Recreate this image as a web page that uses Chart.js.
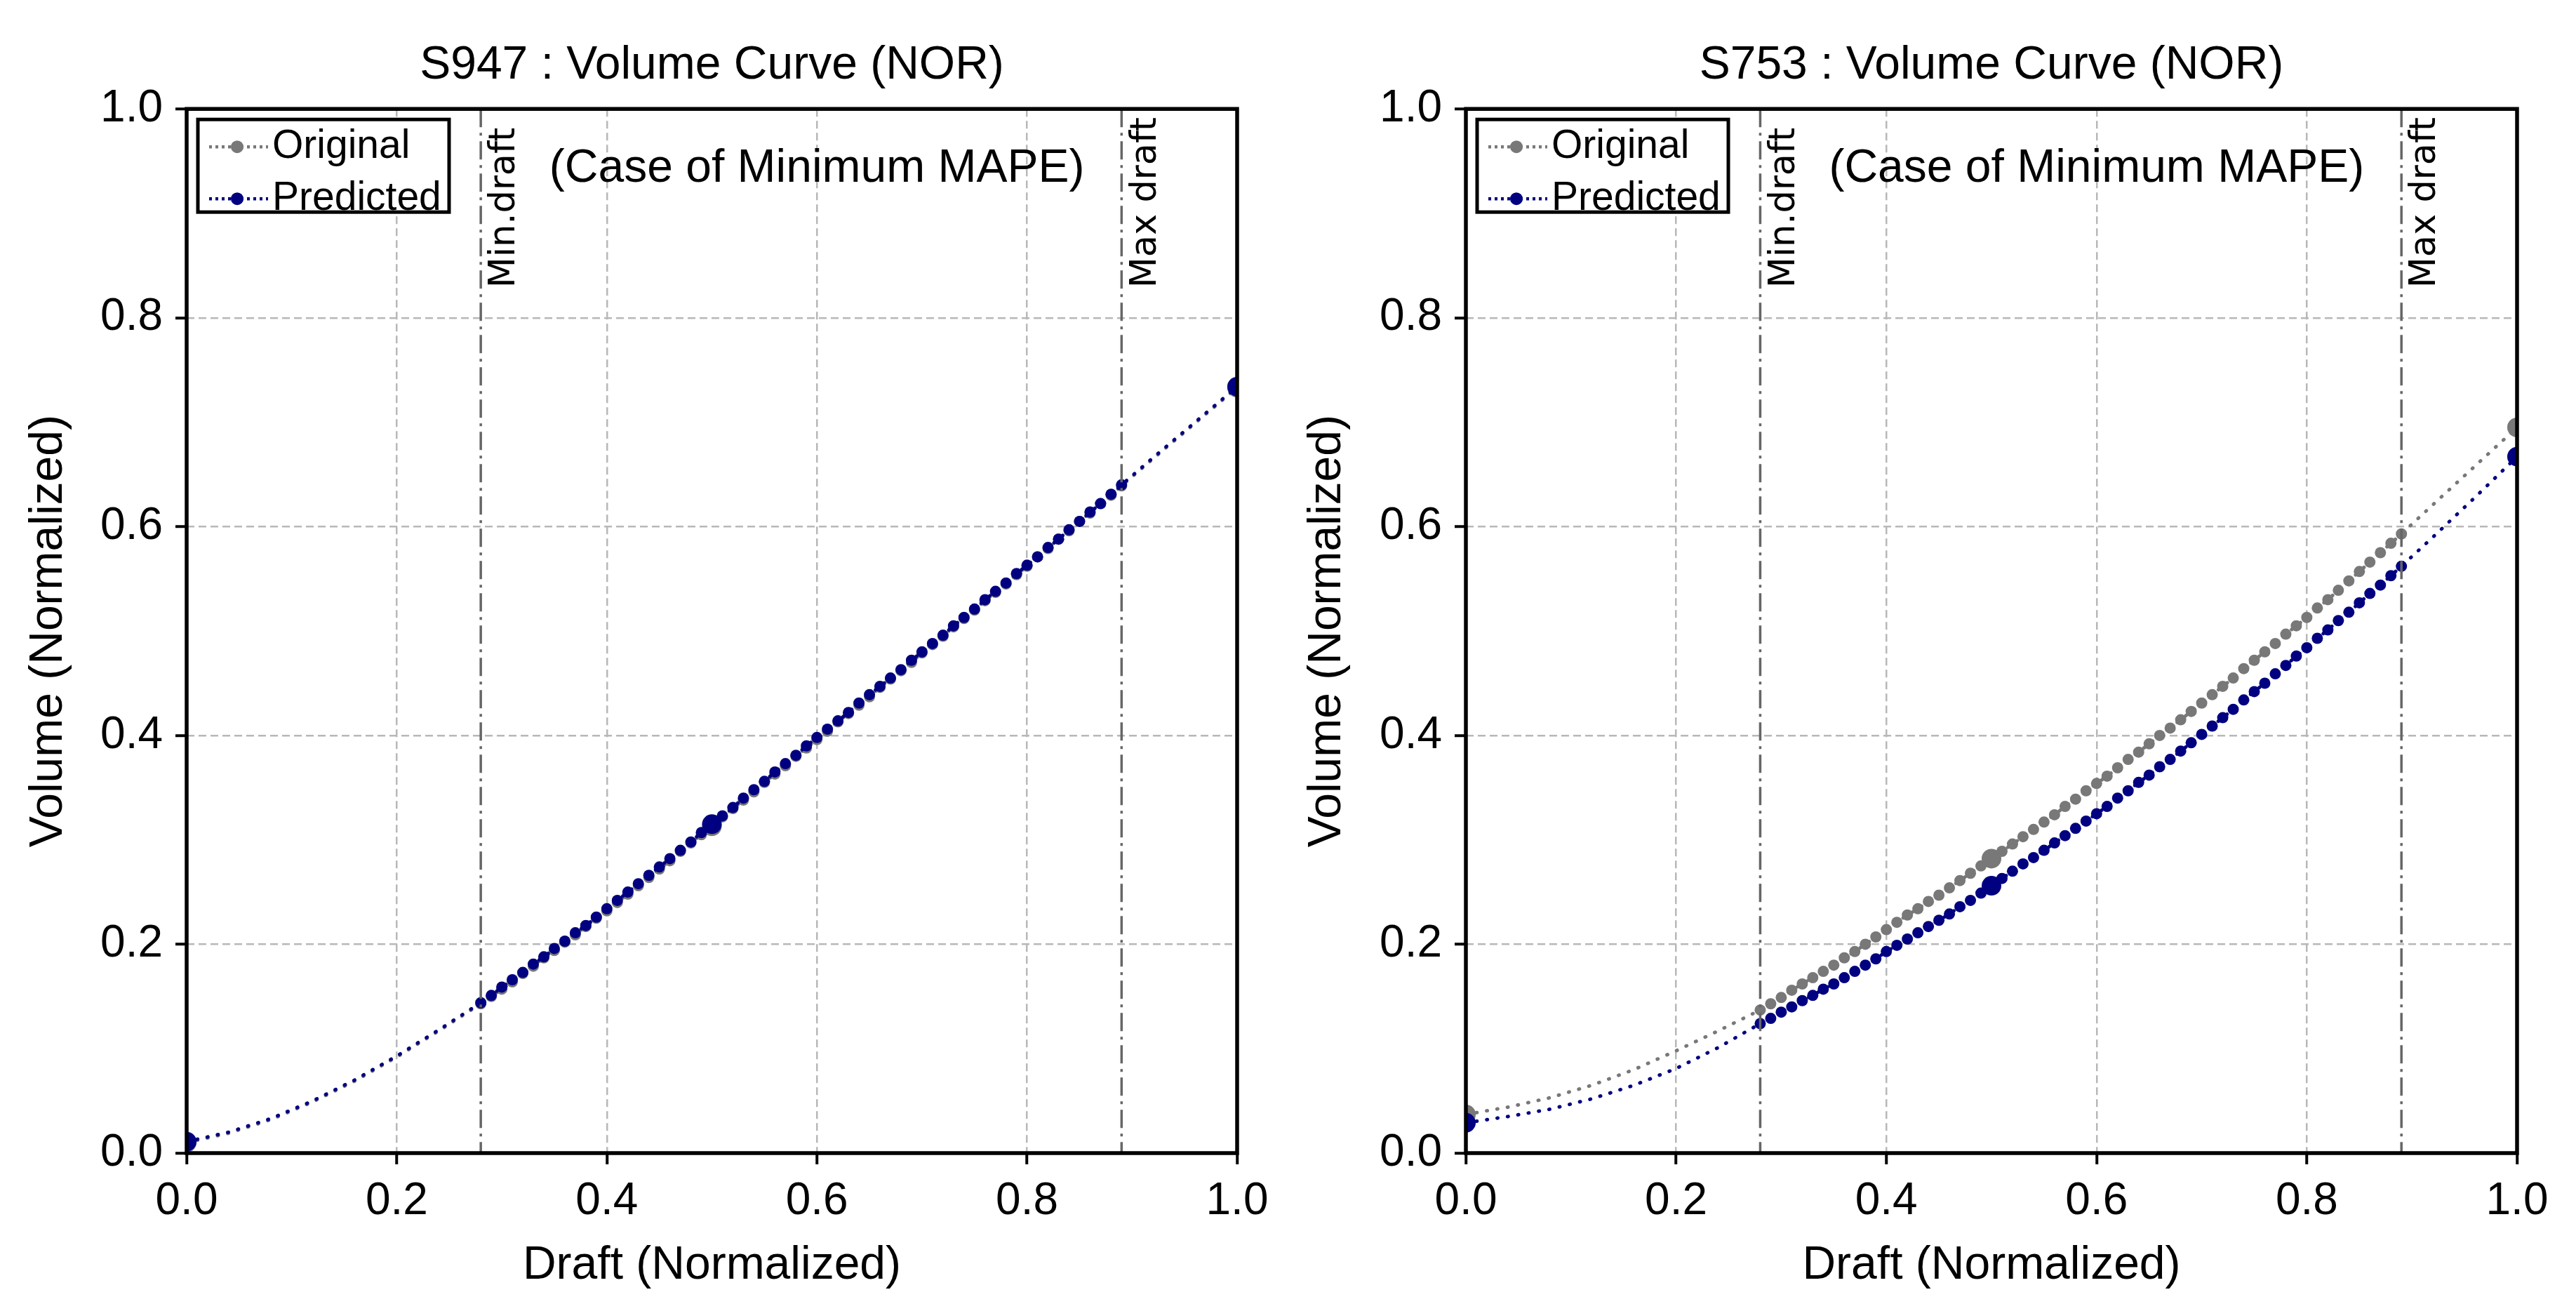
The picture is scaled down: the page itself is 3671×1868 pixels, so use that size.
<!DOCTYPE html>
<html>
<head>
<meta charset="utf-8">
<title>Volume Curve (NOR)</title>
<script src="https://cdn.jsdelivr.net/npm/chart.js@4.4.1/dist/chart.umd.min.js"></script>
<style>
  html, body { margin: 0; padding: 0; background: #fff; }
  body { width: 3671px; height: 1868px; position: relative; overflow: hidden; }
  canvas { position: absolute; top: 0; }
  #chartLeft { left: 0; }
  #chartRight { left: 1835px; }
</style>
</head>
<body>
<canvas id="chartLeft" width="1835" height="1868"></canvas>
<canvas id="chartRight" width="1836" height="1868"></canvas>
<script>
// normalized drafts, shared by both ships
const drafts = [
  0, 0.04, 0.08, 0.12, 0.16, 0.20, 0.24,
  0.28, 0.29, 0.30, 0.31, 0.32, 0.33, 0.34, 0.35, 0.36, 0.37, 0.38, 0.39,
  0.40, 0.41, 0.42, 0.43, 0.44, 0.45, 0.46, 0.47, 0.48, 0.49,
  0.50, 0.51, 0.52, 0.53, 0.54, 0.55, 0.56, 0.57, 0.58, 0.59,
  0.60, 0.61, 0.62, 0.63, 0.64, 0.65, 0.66, 0.67, 0.68, 0.69,
  0.70, 0.71, 0.72, 0.73, 0.74, 0.75, 0.76, 0.77, 0.78, 0.79,
  0.80, 0.81, 0.82, 0.83, 0.84, 0.85, 0.86, 0.87, 0.88, 0.89,
  0.92, 0.96, 1.00
];

// S947 volumes (normalized)
const s947Original = [
  0.010, 0.019, 0.032, 0.049, 0.069, 0.092, 0.117,
  0.143, 0.150, 0.157, 0.164, 0.172, 0.179, 0.187, 0.194, 0.202, 0.209, 0.217, 0.225,
  0.232, 0.240, 0.248, 0.256, 0.264, 0.272, 0.280, 0.289, 0.297, 0.305,
  0.313, 0.322, 0.330, 0.338, 0.346, 0.355, 0.363, 0.371, 0.380, 0.388,
  0.396, 0.404, 0.413, 0.421, 0.429, 0.437, 0.446, 0.454, 0.462, 0.470,
  0.479, 0.487, 0.495, 0.504, 0.512, 0.520, 0.529, 0.537, 0.545, 0.554,
  0.562, 0.571, 0.579, 0.588, 0.596, 0.605, 0.613, 0.622, 0.630, 0.639,
  0.665, 0.699, 0.733
];
const s947Predicted = [
  0.011, 0.020, 0.033, 0.050, 0.070, 0.093, 0.118,
  0.144, 0.151, 0.159, 0.166, 0.173, 0.181, 0.188, 0.196, 0.203, 0.211, 0.218, 0.226,
  0.234, 0.242, 0.250, 0.258, 0.266, 0.274, 0.282, 0.290, 0.298, 0.307,
  0.315, 0.323, 0.331, 0.340, 0.348, 0.356, 0.365, 0.373, 0.381, 0.390,
  0.398, 0.406, 0.414, 0.422, 0.431, 0.439, 0.447, 0.455, 0.463, 0.472,
  0.480, 0.488, 0.496, 0.505, 0.513, 0.521, 0.530, 0.538, 0.546, 0.555,
  0.563, 0.571, 0.580, 0.588, 0.597, 0.605, 0.614, 0.622, 0.631, 0.640,
  0.666, 0.700, 0.734
];

// S753 volumes (normalized)
const s753Original = [
  0.037, 0.044, 0.053, 0.065, 0.080, 0.098, 0.117,
  0.137, 0.143, 0.149, 0.156, 0.162, 0.168, 0.174, 0.180, 0.187, 0.193, 0.200, 0.207,
  0.214, 0.221, 0.228, 0.234, 0.241, 0.247, 0.254, 0.261, 0.268, 0.275,
  0.282, 0.289, 0.296, 0.303, 0.310, 0.317, 0.324, 0.332, 0.339, 0.347,
  0.354, 0.361, 0.369, 0.377, 0.384, 0.392, 0.400, 0.407, 0.415, 0.423,
  0.431, 0.439, 0.447, 0.455, 0.464, 0.472, 0.480, 0.488, 0.497, 0.505,
  0.513, 0.522, 0.530, 0.539, 0.548, 0.557, 0.566, 0.575, 0.584, 0.593,
  0.621, 0.658, 0.695
];
const s753Predicted = [
  0.029, 0.035, 0.042, 0.052, 0.065, 0.081, 0.101,
  0.124, 0.129, 0.135, 0.140, 0.146, 0.151, 0.157, 0.162, 0.168, 0.174, 0.180, 0.186,
  0.193, 0.199, 0.205, 0.211, 0.217, 0.223, 0.229, 0.236, 0.242, 0.249,
  0.256, 0.263, 0.270, 0.277, 0.283, 0.290, 0.297, 0.304, 0.311, 0.318,
  0.325, 0.332, 0.340, 0.347, 0.355, 0.362, 0.370, 0.377, 0.385, 0.393,
  0.401, 0.409, 0.417, 0.425, 0.434, 0.442, 0.450, 0.459, 0.467, 0.476,
  0.484, 0.493, 0.501, 0.510, 0.518, 0.527, 0.536, 0.544, 0.553, 0.562,
  0.590, 0.628, 0.667
];

const minDraft = 0.28;
const maxDraft = 0.89;
const keyDrafts = [0, 0.5, 1.0];          // drafts drawn with the big markers
const axisTicks = [0, 0.2, 0.4, 0.6, 0.8, 1.0];

const GRAY = '#787878';
const NAVY = '#000080';
const SANS = "'Liberation Sans', Arial, sans-serif";

Chart.defaults.font.family = SANS;
Chart.defaults.color = '#000';

function pointSize(ctx) {
  const d = drafts[ctx.dataIndex];
  if (keyDrafts.some(k => Math.abs(k - d) < 1e-9)) return 14;
  if (d >= minDraft - 1e-9 && d <= maxDraft + 1e-9) return 8;
  return 0;
}

function series(label, values, color, order) {
  return {
    label: label,
    data: drafts.map((d, i) => ({ x: d, y: values[i] })),
    borderColor: color,
    backgroundColor: color,
    borderWidth: 5,
    borderDash: [1, 14],
    borderCapStyle: 'round',
    pointRadius: pointSize,
    pointBorderWidth: 0,
    pointBackgroundColor: color,
    tension: 0,
    clip: 0,
    order: order
  };
}

// draft lines, frame, notes and the boxed legend
const decorPlugin = {
  id: 'decor',
  afterDatasetsDraw(chart) {
    const { ctx, chartArea: a, scales: { x } } = chart;

    ctx.save();
    ctx.beginPath();
    ctx.rect(a.left, a.top, a.right - a.left, a.bottom - a.top);
    ctx.clip();
    ctx.strokeStyle = '#666';
    ctx.lineWidth = 3.5;
    ctx.setLineDash([26, 8, 4, 8]);
    [minDraft, maxDraft].forEach(d => {
      const px = x.getPixelForValue(d);
      ctx.beginPath();
      ctx.moveTo(px, a.top);
      ctx.lineTo(px, a.bottom);
      ctx.stroke();
    });
    ctx.restore();

    ctx.save();
    ctx.strokeStyle = '#000';
    ctx.lineWidth = 5.5;
    ctx.strokeRect(a.left, a.top, a.right - a.left, a.bottom - a.top);

    // rotated draft labels
    ctx.fillStyle = '#000';
    ctx.font = "51px 'DejaVu Sans'";
    ctx.textAlign = 'left';
    ctx.textBaseline = 'middle';
    [[minDraft, 'Min.draft'], [maxDraft, 'Max draft']].forEach(([d, txt]) => {
      ctx.save();
      ctx.translate(x.getPixelForValue(d) + 35, a.top + 255);
      ctx.rotate(-Math.PI / 2);
      ctx.fillText(txt, 0, 0);
      ctx.restore();
    });

    ctx.font = '66px ' + SANS;
    ctx.textAlign = 'center';
    ctx.fillText('(Case of Minimum MAPE)', x.getPixelForValue(0.6), a.top + 86);

    // legend
    const bx = a.left + 16, by = a.top + 15, bw = 358, bh = 132;
    ctx.fillStyle = '#fff';
    ctx.fillRect(bx, by, bw, bh);
    ctx.lineWidth = 5;
    ctx.strokeRect(bx, by, bw, bh);
    const items = [['Original', GRAY], ['Predicted', NAVY]];
    items.forEach(([label, color], i) => {
      const cy = by + 39 + i * 74;
      ctx.strokeStyle = color;
      ctx.lineWidth = 4.5;
      ctx.setLineDash([4, 5]);
      ctx.beginPath();
      ctx.moveTo(bx + 16, cy);
      ctx.lineTo(bx + 100, cy);
      ctx.stroke();
      ctx.setLineDash([]);
      ctx.fillStyle = color;
      ctx.beginPath();
      ctx.arc(bx + 56, cy, 9, 0, Math.PI * 2);
      ctx.fill();
      ctx.fillStyle = '#000';
      ctx.font = '57px ' + SANS;
      ctx.textAlign = 'left';
      ctx.fillText(label, bx + 106, cy);
    });
    ctx.restore();
  }
};

function axis(titleText, isX, fitSize, titlePad) {
  return {
    type: 'linear',
    min: 0,
    max: 1,
    afterBuildTicks: s => { s.ticks = axisTicks.map(v => ({ value: v })); },
    afterFit: s => { if (isX) s.height = fitSize; else s.width = fitSize; },
    ticks: {
      font: { size: 64 },
      color: '#000',
      padding: isX ? 15 : 18,
      callback: v => v.toFixed(1)
    },
    grid: {
      color: c => (c.tick && (c.tick.value === 0 || c.tick.value === 1)) ? 'rgba(0,0,0,0)' : '#b8b8b8',
      lineWidth: 2.5,
      tickLength: 16,
      tickWidth: 4,
      tickColor: '#000'
    },
    border: { display: false, dash: [11, 6] },
    title: {
      display: true,
      text: titleText,
      font: { size: 66 },
      color: '#000',
      padding: isX ? { top: 0, bottom: 25 } : { top: titlePad, bottom: 0 }
    }
  };
}

function makeChart(canvasId, title, original, predicted, yAxisWidth, yTitlePad, rightPad) {
  return new Chart(document.getElementById(canvasId), {
    type: 'line',
    data: {
      datasets: [
        series('Original', original, GRAY, 2),
        series('Predicted', predicted, NAVY, 1)
      ]
    },
    options: {
      responsive: false,
      maintainAspectRatio: false,
      devicePixelRatio: 1,
      animation: false,
      events: [],
      layout: { padding: { left: 0, right: rightPad, top: 0, bottom: 0 } },
      plugins: {
        legend: { display: false },
        tooltip: { enabled: false },
        title: {
          display: true,
          text: title,
          fullSize: false,
          font: { size: 66, weight: 'normal' },
          color: '#000',
          padding: { top: 54, bottom: 22 }
        }
      },
      scales: {
        x: axis('Draft (Normalized)', true, 225),
        y: axis('Volume (Normalized)', false, yAxisWidth, yTitlePad)
      }
    },
    plugins: [decorPlugin]
  });
}

makeChart('chartLeft', 'S947 : Volume Curve (NOR)', s947Original, s947Predicted, 266, 30, 72);
makeChart('chartRight', 'S753 : Volume Curve (NOR)', s753Original, s753Predicted, 254, 17, 84);
</script>
</body>
</html>
